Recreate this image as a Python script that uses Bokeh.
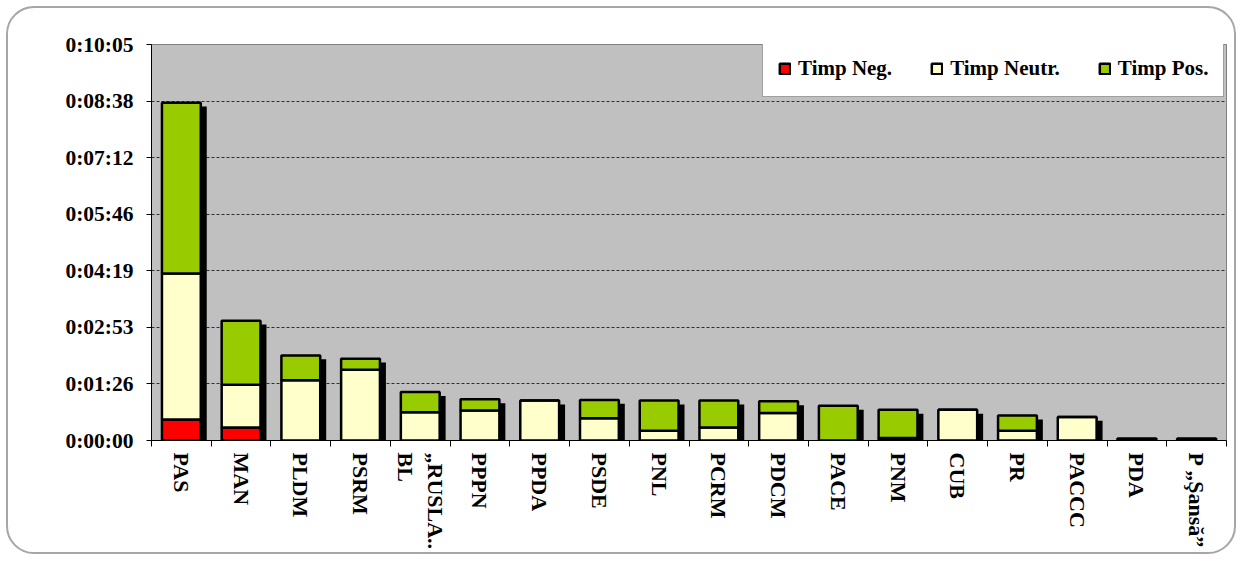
from bokeh.plotting import figure
from bokeh.models import (ColumnDataSource, FixedTicker, LinearAxis, Range1d,
                          Legend, LegendItem, CustomJSTickFormatter)
from bokeh.embed import file_html
from bokeh.resources import INLINE

# ---------------- data (seconds) ----------------
categories = ["PAS", "MAN", "PLDM", "PSRM", "„RUSLA..\nBL", "PPPN", "PPDA", "PSDE",
              "PNL", "PCRM", "PDCM", "PACE", "PNM", "CUB", "PR", "PACCC", "PDA",
              "P „Şansă”"]
timp_neg = [32, 20, 0, 0, 0, 0, 0, 0, 0, 0, 0, 0, 0, 0, 0, 0, 0, 0]
timp_neutr = [223, 65, 92, 108, 43, 46, 61, 34, 15, 20, 42, 0, 4, 47, 15, 36, 0, 0]
timp_pos = [261, 98, 38, 17, 31, 17, 0, 28, 46, 41, 18, 53, 43, 0, 23, 0, 3, 3]
series_names = ["Timp Neg.", "Timp Neutr.", "Timp Pos."]
series_colors = ["#ff0000", "#ffffcc", "#99cc00"]
y_tick_values = [0, 86.4, 172.8, 259.2, 345.6, 432, 518.4, 604.8]
y_tick_labels = ["0:00:00", "0:01:26", "0:02:53", "0:04:19", "0:05:46",
                 "0:07:12", "0:08:38", "0:10:05"]

n = len(categories)
xs = [i + 0.5 for i in range(n)]
totals = [a + b + c for a, b, c in zip(timp_neg, timp_neutr, timp_pos)]

src = ColumnDataSource(dict(x=xs, neg=timp_neg, neutr=timp_neutr, pos=timp_pos,
                            sx=[x + 0.1 for x in xs],
                            stop=[max(0, t - 6) for t in totals]))

FONT = "Liberation Serif"

p = figure(frame_width=1075, frame_height=396,
           min_border_left=143, min_border_top=36, min_border_right=8,
           min_border_bottom=105,
           x_range=Range1d(0, n), y_range=Range1d(0, y_tick_values[-1]),
           output_backend="svg", toolbar_location=None)
p.styles = {"border": "2px solid #a6a6a6", "border-radius": "28px",
            "margin-left": "6px", "margin-top": "6px"}
p.border_fill_color = None
p.background_fill_color = "#c0c0c0"
p.outline_line_color = "#808080"
p.outline_line_width = 1

# shadows
p.vbar(x="sx", top="stop", bottom=0, width=0.65, source=src,
       fill_color="black", line_color=None)

rs = p.vbar_stack(["neg", "neutr", "pos"], x="x", width=0.65, source=src,
                  fill_color=series_colors, line_color="black", line_width=2.5)

# grid
p.xgrid.visible = False
p.ygrid.ticker = FixedTicker(ticks=y_tick_values)
p.ygrid.grid_line_color = "#303030"
p.ygrid.grid_line_dash = "3 2"
p.ygrid.grid_line_width = 1

# y axis
ya = p.yaxis[0]
ya.ticker = FixedTicker(ticks=y_tick_values)
ya.formatter = CustomJSTickFormatter(
    args=dict(vals=y_tick_values, labels=y_tick_labels),
    code="const i = vals.findIndex(v => Math.abs(v - tick) < 1e-6); return i >= 0 ? labels[i] : '';")
ya.major_label_text_font = FONT
ya.major_label_text_font_style = "bold"
ya.major_label_text_font_size = "21.5px"
ya.major_label_text_color = "black"
ya.major_label_standoff = 13
ya.major_tick_out = 5
ya.major_tick_in = 0
ya.minor_tick_line_color = None
ya.axis_line_color = "black"

# x axis: tick marks between categories (no labels)
xa = p.xaxis[0]
xa.ticker = FixedTicker(ticks=list(range(n + 1)))
xa.major_label_text_font_size = "2px"
xa.major_label_text_color = None
xa.major_label_standoff = 0
xa.major_tick_out = 6
xa.major_tick_in = 0
xa.minor_tick_line_color = None
xa.axis_line_color = "black"

# x axis: labels at category centres
xl = LinearAxis(ticker=FixedTicker(ticks=xs))
xl.formatter = CustomJSTickFormatter(args=dict(labels=categories),
                                     code="return labels[Math.floor(tick)];")
xl.axis_line_color = None
xl.major_tick_line_color = None
xl.minor_tick_line_color = None
xl.major_tick_out = 0
xl.major_label_standoff = 6
xl.major_label_orientation = "vertical"
xl.major_label_text_font = FONT
xl.major_label_text_font_style = "bold"
xl.major_label_text_font_size = "22px"
xl.major_label_text_color = "black"
p.add_layout(xl, "below")

legend = Legend(items=[LegendItem(label=nm, renderers=[r]) for nm, r in zip(series_names, rs)],
                orientation="horizontal", location=(611, 343), padding=15, spacing=38,
                glyph_width=13, glyph_height=13, label_standoff=7,
                label_text_font=FONT, label_text_font_style="bold",
                label_text_font_size="21px", label_text_color="black",
                border_line_color="#404040", border_line_width=1,
                background_fill_color="white", background_fill_alpha=1)
p.add_layout(legend)

open("out.html", "w").write(file_html(p, INLINE))
